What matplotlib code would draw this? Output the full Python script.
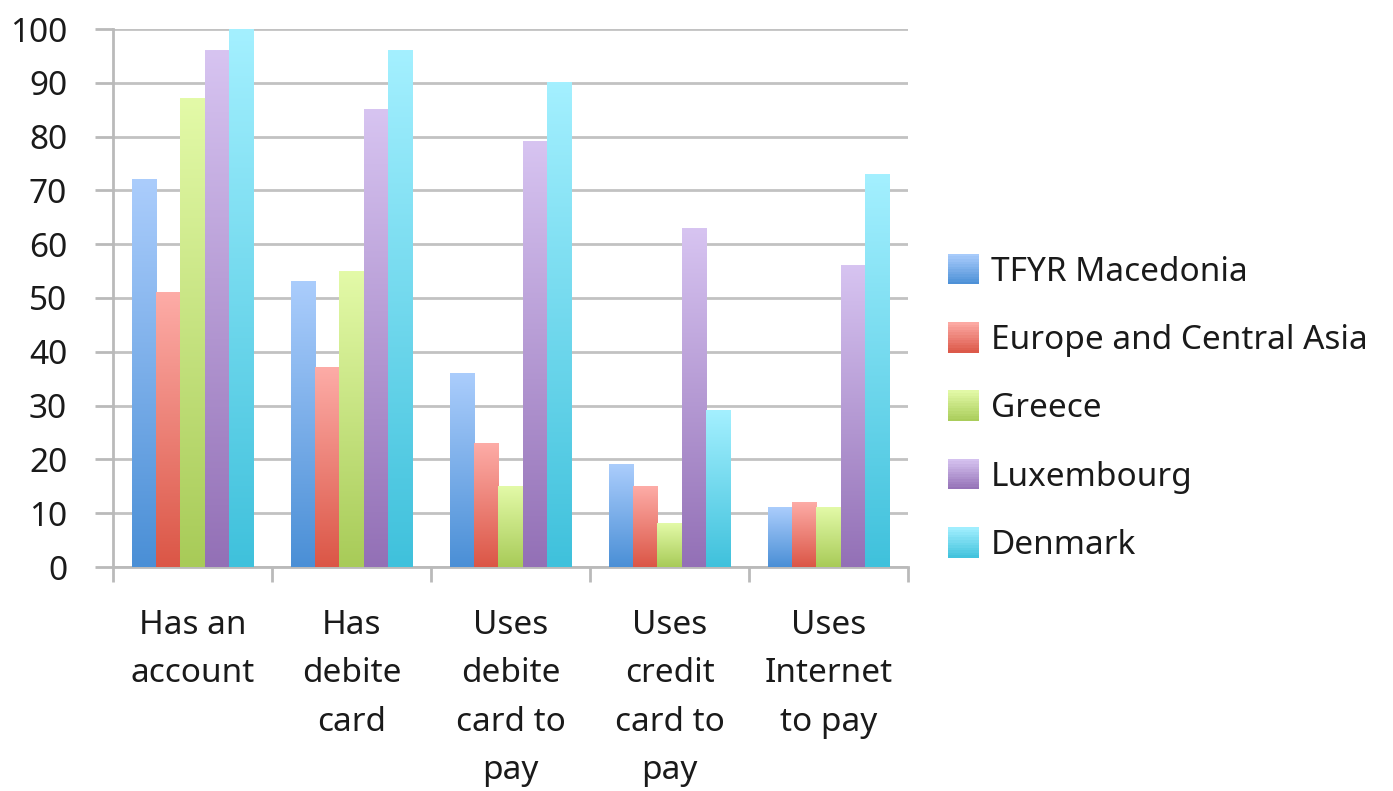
import numpy as np
import matplotlib
matplotlib.use("Agg")
import matplotlib.pyplot as plt
from matplotlib.colors import LinearSegmentedColormap
from matplotlib.patches import Rectangle
from matplotlib.legend_handler import HandlerBase

plt.rcParams['font.family'] = ['Noto Sans', 'DejaVu Sans']

categories = ["Has an\naccount", "Has\ndebite\ncard", "Uses\ndebite\ncard to\npay",
              "Uses\ncredit\ncard to\npay", "Uses\nInternet\nto pay"]
series_names = ["TFYR Macedonia", "Europe and Central Asia", "Greece", "Luxembourg", "Denmark"]
macedonia = [72, 53, 36, 19, 11]
europe_central_asia = [51, 37, 23, 15, 12]
greece = [87, 55, 15, 8, 11]
luxembourg = [96, 85, 79, 63, 56]
denmark = [100, 96, 90, 29, 73]
series_values = [macedonia, europe_central_asia, greece, luxembourg, denmark]

# (top, bottom) colours of each series' vertical gradient
gradients = [("#abcdfc", "#4a8fd6"),
             ("#fdaca7", "#db5646"),
             ("#e3faa8", "#a8cb58"),
             ("#d7c4f1", "#9370b6"),
             ("#a4f0ff", "#3fc1dc")]

W, H = 1393, 791
fig = plt.figure(figsize=(W / 100, H / 100), dpi=100)
ax = fig.add_axes([113 / W, 1 - 567 / H, (908 - 113) / W, (567 - 29) / H])

n = len(series_names)
x = np.arange(len(categories))
group_w = 0.765
bw = group_w / n

for i, (name, vals) in enumerate(zip(series_names, series_values)):
    top, bottom = gradients[i]
    cmap = LinearSegmentedColormap.from_list(name, [bottom, top])
    bars = ax.bar(x - group_w / 2 + bw * (i + 0.5), vals, width=bw,
                  color="none", edgecolor="none", label=name, zorder=3)
    for b in bars:
        x0, w, h = b.get_x(), b.get_width(), b.get_height()
        grad = np.linspace(0, 1, 256).reshape(-1, 1)
        ax.imshow(grad, cmap=cmap, origin="lower", aspect="auto",
                  extent=(x0, x0 + w, 0, h), zorder=3, interpolation="bilinear")

ax.set_xlim(-0.5, len(categories) - 0.5)
ax.set_ylim(0, 100)
ax.set_yticks(np.arange(0, 101, 10))

grid_c = "#c2c2c2"
ax.yaxis.grid(True, color=grid_c, linewidth=2.0, zorder=0)
ax.set_axisbelow(True)
for s in ["top", "right"]:
    ax.spines[s].set_visible(False)
for s in ["left", "bottom"]:
    ax.spines[s].set_color("#bababa")
    ax.spines[s].set_linewidth(2.0)

ax.tick_params(axis="y", length=13, width=2.0, color="#bababa",
               labelsize=24, labelcolor="#1a1a1a", pad=20)
# category boundaries carry the ticks; labels sit at group centres
ax.set_xticks(np.arange(-0.5, len(categories), 1.0))
ax.set_xticklabels([])
ax.tick_params(axis="x", length=11, width=2.0, color="#bababa")
ax.set_xticks(x, minor=True)
ax.set_xticklabels(categories, minor=True, fontsize=24, color="#1a1a1a",
                   linespacing=1.62, va="top", ha="center")
ax.tick_params(axis="x", which="minor", length=0, pad=30)


class GradientSquare(HandlerBase):
    def __init__(self, top, bottom):
        super().__init__()
        self.top, self.bottom = top, bottom

    def create_artists(self, legend, orig_handle, xdescent, ydescent,
                       width, height, fontsize, trans):
        side = 22
        cmap = LinearSegmentedColormap.from_list("leg", [self.bottom, self.top])
        arts = []
        steps = 12
        for k in range(steps):
            r = Rectangle((width - side - xdescent, -ydescent + (height - side) / 2 + side * k / steps),
                          side, side / steps + 0.3,
                          facecolor=cmap((k + 0.5) / steps), edgecolor="none",
                          transform=trans)
            arts.append(r)
        return arts


handles, labels = ax.get_legend_handles_labels()
hmap = {h: GradientSquare(*gradients[i]) for i, h in enumerate(handles)}
leg = fig.legend(handles, labels, handler_map=hmap, loc="center left",
                 bbox_to_anchor=(924 / W, 1 - 409 / H), frameon=False,
                 fontsize=24, labelspacing=1.06, handlelength=0.75,
                 handleheight=0.75, handletextpad=0.35)
for t in leg.get_texts():
    t.set_color("#1a1a1a")

fig.savefig("out.png", dpi=100)
